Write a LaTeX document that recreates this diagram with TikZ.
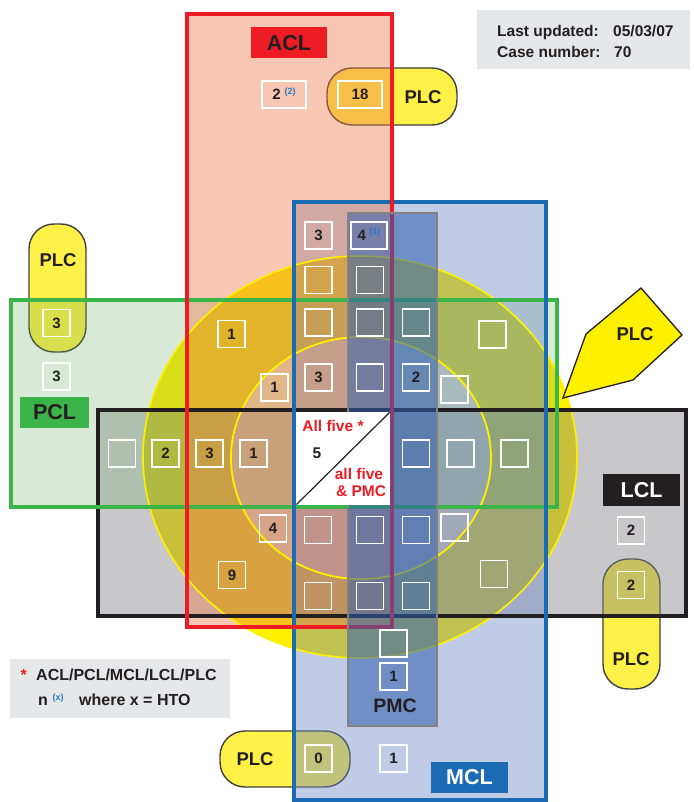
\documentclass[tikz,border=0pt]{standalone}
\usepackage{fontspec}
\setmainfont{Liberation Sans}
\definecolor{aclfill}{RGB}{240,121,72}
\definecolor{mclfill}{RGB}{105,133,195}
\definecolor{pclfill}{RGB}{102,172,94}
\definecolor{lclfill}{RGB}{130,132,136}
\definecolor{pmcfill}{RGB}{47,95,175}
\definecolor{yel0}{RGB}{255,240,0}
\definecolor{inner0}{RGB}{255,245,215}
\definecolor{pillyel}{RGB}{255,241,72}
\definecolor{red0}{RGB}{237,28,36}
\definecolor{grn}{RGB}{59,180,74}
\definecolor{blu}{RGB}{27,106,180}
\definecolor{blk}{RGB}{35,31,32}
\definecolor{txt}{RGB}{35,31,32}
\definecolor{infogray}{RGB}{230,231,232}
\definecolor{supblue}{RGB}{40,120,200}
\definecolor{pmcline}{RGB}{130,130,130}
\definecolor{pillline}{RGB}{64,64,64}
\newcommand{\supf}{\fontsize{9}{9}\selectfont\color{supblue}}
\begin{document}
\begin{tikzpicture}[x=1pt,y=-1pt,
  every node/.style={font=\bfseries},
  numbox/.style={draw=white,line width=1.8pt,minimum width=27pt,minimum height=27pt,inner sep=0pt,font=\bfseries\fontsize{15}{16}\selectfont,text=txt},
  pill/.style={draw=pillline,line width=1.4pt,fill=pillyel,rounded corners=25pt,inner sep=0pt},
  labbox/.style={inner sep=0pt,font=\bfseries\fontsize{21.5}{24}\selectfont},
  plc/.style={font=\bfseries\fontsize{18.5}{20}\selectfont,text=txt,inner sep=0pt},
  info/.style={font=\bfseries\fontsize{15.5}{18}\selectfont,text=txt,inner sep=0pt,anchor=base west},
  leg/.style={font=\bfseries\fontsize{16}{18}\selectfont,text=txt,inner sep=0pt,anchor=base west},
  rtxt/.style={font=\bfseries\fontsize{15.5}{18}\selectfont,text=red0,inner sep=0pt},
  border/.style={line width=4pt}
]
\useasboundingbox (0,0) rectangle (693,802);
\fill[white] (0,0) rectangle (693,802);

% PLC pills (below everything translucent)
\node[pill,minimum width=130pt,minimum height=57pt] (plcT) at (392,96.5) {};
\node[pill,minimum width=57pt,minimum height=128pt] (plcL) at (57.5,288) {};
\node[pill,minimum width=57pt,minimum height=130pt] (plcR) at (631.5,624) {};
\node[pill,minimum width=130pt,minimum height=56pt] (plcB) at (285,759) {};

% circles
\fill[yel0] (360,457) ellipse [x radius=217pt,y radius=201pt];
\fill[inner0] (361,458) ellipse [x radius=130pt,y radius=121pt];

% translucent ligament fills
\fill[lclfill,fill opacity=.44] (97.5,410) rectangle (686,616);
\fill[pclfill,fill opacity=.255] (10.5,300) rectangle (557,507);
\fill[mclfill,fill opacity=.42] (294,202) rectangle (545.5,799.5);
\fill[aclfill,fill opacity=.41] (187,14) rectangle (392,626.5);

% circle outlines
\draw[yel0,line width=1.6pt] (360,457) ellipse [x radius=217pt,y radius=201pt];
\draw[yel0,line width=1.8pt] (361,458) ellipse [x radius=130pt,y radius=121pt];

% borders
\draw[border,blk] (97.5,410) rectangle (686,616);
\draw[border,grn] (10.5,300) rectangle (557,507);
\draw[border,blu] (294,202) rectangle (545.5,799.5);
\draw[border,red0] (187,14) rectangle (392,626.5);

% PMC column
\draw[fill=pmcfill,fill opacity=.55,draw=pmcline,line width=1.3pt] (348,213) rectangle (437,726);

% white centre square
\fill[white] (296,412) rectangle (390,505);
\coordinate (wsA) at (296.5,504.5);
\coordinate (wsB) at (389.5,412.5);
\draw[blk,line width=1.2pt] (wsA) -- (wsB);
\node[rtxt] (allfive) at (333,426) {All five *};
\node[font=\bfseries\fontsize{15.5}{18}\selectfont,text=txt,inner sep=0pt] (five) at (317,453) {5};
\node[rtxt] (allfiveb) at (359,474) {all five};
\node[rtxt] (pmcamp) at (361,491) {\& PMC};

% number boxes
\node[numbox,minimum width=44pt] (b1) at (284,94.5) {2\hspace{4pt}\smash{\raisebox{5.5pt}{\supf(2)}}};
\node[numbox,minimum width=44pt] (b2) at (360,94.5) {18};
\node[numbox] (b3) at (56.5,323) {3};
\node[numbox] (b4) at (56.5,376.5) {3};
\node[numbox] (b5) at (318.5,235.5) {3};
\node[numbox,minimum width=36pt] (b6) at (369,235.5) {4\hspace{3.5pt}\smash{\raisebox{6pt}{\supf(1)}}};
\node[numbox] (b7) at (318.5,280) {};
\node[numbox] (b8) at (370,280) {};
\node[numbox] (b9) at (318.5,322.5) {};
\node[numbox] (b10) at (370,322.5) {};
\node[numbox] (b11) at (416,322.5) {};
\node[numbox] (b12) at (492.5,334.5) {};
\node[numbox] (b13) at (231.5,334) {1};
\node[numbox] (b14) at (318.5,377.5) {3};
\node[numbox] (b15) at (370,377.5) {};
\node[numbox] (b16) at (416,377.5) {2};
\node[numbox] (b17) at (454.5,389.5) {};
\node[numbox] (b18) at (274.5,387.5) {1};
\node[numbox] (b19) at (122,453.5) {};
\node[numbox] (b20) at (165.5,453.5) {2};
\node[numbox] (b21) at (209.5,453.5) {3};
\node[numbox] (b22) at (253.5,453.5) {1};
\node[numbox] (b23) at (416,453.5) {};
\node[numbox] (b24) at (460.5,453.5) {};
\node[numbox] (b25) at (514.5,453.5) {};
\node[numbox] (b26) at (273,528.5) {4};
\node[numbox] (b27) at (318,530) {};
\node[numbox] (b28) at (370,530) {};
\node[numbox] (b29) at (416,530) {};
\node[numbox] (b30) at (454.5,527.5) {};
\node[numbox] (b31) at (232,575) {9};
\node[numbox] (b32) at (494,574) {};
\node[numbox] (b33) at (318,596) {};
\node[numbox] (b34) at (370,596) {};
\node[numbox] (b35) at (416,596) {};
\node[numbox] (b36) at (393.5,643.5) {};
\node[numbox] (b37) at (393.5,676.5) {1};
\node[numbox] (b38) at (318.5,758.5) {0};
\node[numbox] (b39) at (393.5,758.5) {1};
\node[numbox] (b40) at (631,530.5) {2};
\node[numbox] (b41) at (631,585) {2};

% ligament labels
\node[labbox,fill=red0,minimum width=76pt,minimum height=31pt,text=txt] (aclL) at (289,43) {ACL};
\node[labbox,fill=grn,minimum width=69pt,minimum height=31pt,text=txt] (pclL) at (54.5,412.5) {PCL};
\node[labbox,fill=blk,minimum width=77pt,minimum height=32pt,text=white] (lclL) at (641.5,490) {LCL};
\node[labbox,fill=blu,minimum width=77pt,minimum height=31pt,text=white] (mclL) at (469.5,777.5) {MCL};
\node[font=\bfseries\fontsize{19.5}{20}\selectfont,text=txt,inner sep=0pt] (pmcL) at (395,706) {PMC};

% PLC texts
\node[plc] (plcTt) at (423,97) {PLC};
\node[plc] (plcLt) at (58,260) {PLC};
\node[plc] (plcRt) at (631,659) {PLC};
\node[plc] (plcBt) at (255,759) {PLC};

% PLC pentagon
\filldraw[fill=yel0,draw=blk,line width=1.3pt,line join=miter] (563,398) -- (586,334) -- (641,288) -- (682,335) -- (633,380) -- cycle;
\node[plc] (plcPt) at (635,334) {PLC};

% info box
\fill[infogray] (477,10) rectangle (690,69);
\node[info] (lu) at (497,37) {Last updated:};
\node[info] (lud) at (613,37) {05/03/07};
\node[info] (cn) at (497,58) {Case number:};
\node[info] (cnn) at (614,58) {70};

% legend
\fill[infogray] (10,659) rectangle (230,718);
\node[leg,text=red0] (star) at (20.5,680) {*};
\node[leg] (leg1) at (36,680) {ACL/PCL/MCL/LCL/PLC};
\node[leg] (legn) at (38,705) {n};
\node[inner sep=0pt,anchor=base west,font=\bfseries\supf] (legx) at (52.5,700) {(x)};
\node[leg] (leg2) at (79,705) {where x = HTO};
\end{tikzpicture}
\end{document}
